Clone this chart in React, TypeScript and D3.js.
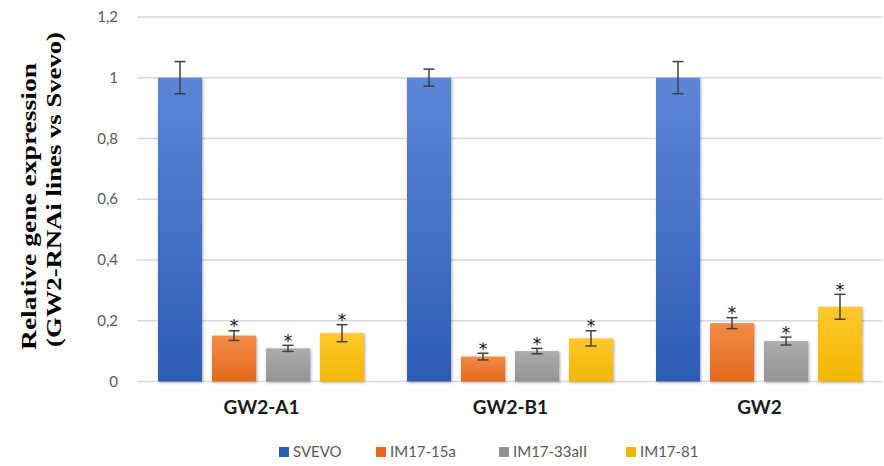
import React from "react";
import * as d3 from "d3";

const categories = ["GW2-A1", "GW2-B1", "GW2"];
const seriesNames = ["SVEVO", "IM17-15a", "IM17-33aII", "IM17-81"];
const svevo = [1.0, 1.0, 1.0];
const im1715a = [0.151, 0.082, 0.192];
const im1733 = [0.109, 0.1, 0.133];
const im1781 = [0.159, 0.142, 0.246];
const errSvevo = [0.053, 0.028, 0.053];
const err1715a = [0.016, 0.011, 0.018];
const err1733 = [0.01, 0.009, 0.013];
const err1781 = [0.028, 0.025, 0.041];
const significant = [
  [false, true, true, true],
  [false, true, true, true],
  [false, true, true, true],
];
const tickValues = [0, 0.2, 0.4, 0.6, 0.8, 1, 1.2];
const tickLabels = ["0", "0,2", "0,4", "0,6", "0,8", "1", "1,2"];

const values = [svevo, im1715a, im1733, im1781];
const errors = [errSvevo, err1715a, err1733, err1781];
const colorsTop = ["#5b87d6", "#f28c45", "#acacac", "#ffc82e"];
const colorsBot = ["#2d5cb5", "#e2691c", "#939393", "#f2b700"];

export default function App() {
  const W = 884;
  const H = 466;
  const x0 = d3.scaleBand<string>().domain(categories).range([137, 884]).padding(0);
  const x1 = d3
    .scaleBand<string>()
    .domain(seriesNames)
    .range([21, 227])
    .paddingInner(10 / 54)
    .paddingOuter(0);
  const y = d3.scaleLinear().domain([0, 1.2]).range([381.5, 16.9]);
  const font = "Lato, 'Open Sans', 'Liberation Sans', sans-serif";
  const serif = "'Liberation Serif', 'Times New Roman', serif";

  const legendItems = [
    { name: seriesNames[0], x: 279 },
    { name: seriesNames[1], x: 376 },
    { name: seriesNames[2], x: 499 },
    { name: seriesNames[3], x: 626 },
  ];

  return (
    <div style={{ position: "absolute", left: 0, top: 0 }}>
      <svg width={W} height={H} style={{ display: "block", background: "#fff" }}>
        <defs>
          {seriesNames.map((s, i) => (
            <linearGradient key={s} id={`g${i}`} x1="0" y1="0" x2="0" y2="1">
              <stop offset="0%" stopColor={colorsTop[i]} />
              <stop offset="100%" stopColor={colorsBot[i]} />
            </linearGradient>
          ))}
          <filter id="sh" x="-20%" y="-20%" width="140%" height="140%">
            <feGaussianBlur in="SourceAlpha" stdDeviation="1.5" />
            <feOffset dx="0.5" dy="0.5" result="b" />
            <feComponentTransfer>
              <feFuncA type="linear" slope="0.35" />
            </feComponentTransfer>
            <feMerge>
              <feMergeNode />
              <feMergeNode in="SourceGraphic" />
            </feMerge>
          </filter>
        </defs>

        {tickValues.map((t, i) => (
          <g key={t}>
            <line x1={137} x2={882} y1={y(t)} y2={y(t)} stroke="#d9d9d9" strokeWidth={1.5} />
            <text
              x={118}
              y={y(t)}
              dy="0.35em"
              textAnchor="end"
              fontFamily={font}
              fontSize={15}
              fill="#595959"
            >
              {tickLabels[i]}
            </text>
          </g>
        ))}

        {categories.map((c, ci) => (
          <g key={c} transform={`translate(${x0(c)},0)`}>
            {seriesNames.map((s, si) => {
              const v = values[si][ci];
              const e = errors[si][ci];
              const bx = x1(s)!;
              const bw = x1.bandwidth();
              const cx = bx + bw / 2;
              const top = y(v + e);
              return (
                <g key={s}>
                  <rect
                    x={bx}
                    y={y(v)}
                    width={bw}
                    height={y(0) - y(v)}
                    fill={`url(#g${si})`}
                    filter="url(#sh)"
                  />
                  <g stroke="#404040" strokeWidth={1.5}>
                    <line x1={cx} x2={cx} y1={y(v + e)} y2={y(v - e)} />
                    <line x1={cx - 5.5} x2={cx + 5.5} y1={y(v + e)} y2={y(v + e)} />
                    <line x1={cx - 5.5} x2={cx + 5.5} y1={y(v - e)} y2={y(v - e)} />
                  </g>
                  {significant[ci][si] && (
                    <text
                      x={cx}
                      y={top - 9}
                      dy="0.62em"
                      textAnchor="middle"
                      fontFamily="'DejaVu Sans', sans-serif"
                      fontSize={17}
                      fill="#111"
                    >
                      *
                    </text>
                  )}
                </g>
              );
            })}
            <text
              x={x0.bandwidth() / 2}
              y={414}
              textAnchor="middle"
              fontFamily={font}
              fontWeight="bold"
              fontSize={19}
              fill="#1a1a1a"
            >
              {c}
            </text>
          </g>
        ))}

        <g transform="rotate(-90)">
          <text
            x={-350}
            y={36}
            textAnchor="start"
            textLength={287}
            lengthAdjust="spacingAndGlyphs"
            fontFamily={serif}
            fontWeight="bold"
            fontSize={22}
            fill="#000"
          >
            Relative gene expression
          </text>
          <text
            x={-347}
            y={61}
            textAnchor="start"
            textLength={315}
            lengthAdjust="spacingAndGlyphs"
            fontFamily={serif}
            fontWeight="bold"
            fontSize={22}
            fill="#000"
          >
            (GW2-RNAi lines vs Svevo)
          </text>
        </g>

        {legendItems.map((it, i) => (
          <g key={it.name} transform={`translate(${it.x},452)`}>
            <rect x={0} y={-5} width={10} height={10} fill={colorsBot[i]} />
            <text x={14} y={0} dy="0.35em" fontFamily={font} fontSize={15} fill="#595959">
              {it.name}
            </text>
          </g>
        ))}
      </svg>
    </div>
  );
}
